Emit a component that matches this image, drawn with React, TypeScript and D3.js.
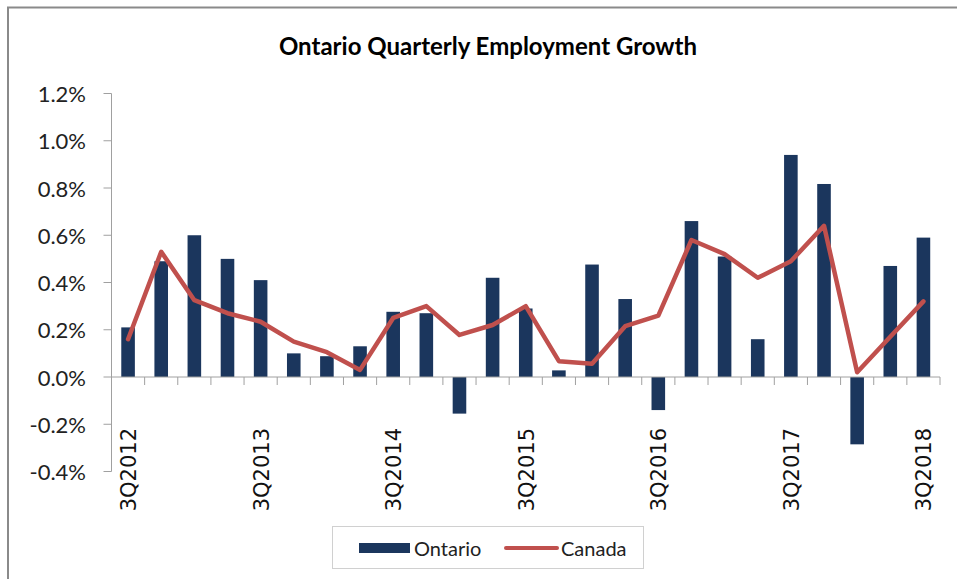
import React, { useEffect, useRef } from "react";
import * as d3 from "d3";

const quarters = [
  "3Q2012", "4Q2012", "1Q2013", "2Q2013", "3Q2013", "4Q2013", "1Q2014", "2Q2014",
  "3Q2014", "4Q2014", "1Q2015", "2Q2015", "3Q2015", "4Q2015", "1Q2016", "2Q2016",
  "3Q2016", "4Q2016", "1Q2017", "2Q2017", "3Q2017", "4Q2017", "1Q2018", "2Q2018", "3Q2018",
];
const ontario = [
  0.21, 0.49, 0.60, 0.50, 0.41, 0.10, 0.088, 0.13, 0.276, 0.27, -0.155, 0.42, 0.29,
  0.028, 0.476, 0.33, -0.14, 0.66, 0.51, 0.16, 0.94, 0.817, -0.285, 0.47, 0.59,
];
const canada = [
  0.16, 0.53, 0.325, 0.27, 0.234, 0.15, 0.105, 0.03, 0.25, 0.30, 0.178, 0.22, 0.30,
  0.067, 0.056, 0.215, 0.26, 0.58, 0.52, 0.42, 0.49, 0.64, 0.02, 0.17, 0.32,
];
const yTicks = [-0.4, -0.2, 0, 0.2, 0.4, 0.6, 0.8, 1.0, 1.2];
const xTickLabels = ["3Q2012", "3Q2013", "3Q2014", "3Q2015", "3Q2016", "3Q2017", "3Q2018"];

const W = 957;
const H = 579;
const X0 = 111.5;
const X1 = 940;
const Y_TOP = 93.5;
const Y_BOT = 471.5;
const BAR = "#1b365d";
const LINE = "#c0504d";
const AXIS = "#a0a0a0";
const SANS = "Lato, 'Open Sans', sans-serif";

export default function App() {
  const ref = useRef<SVGSVGElement>(null);

  useEffect(() => {
    const svg = d3.select(ref.current);
    svg.selectAll("*").remove();

    const x = d3.scaleBand<string>().domain(quarters).range([X0, X1]).paddingInner(0.59).paddingOuter(0.295);
    const step = x.step();
    const y = d3.scaleLinear().domain([-0.4, 1.2]).range([Y_BOT, Y_TOP]);
    const cx = (q: string) => (x(q) as number) + x.bandwidth() / 2;

    svg.append("rect").attr("width", W).attr("height", H).attr("fill", "#fff");

    // frame
    svg.append("line").attr("x1", 7).attr("x2", W).attr("y1", 7.5).attr("y2", 7.5)
      .attr("stroke", "#8a8a8a").attr("stroke-width", 2);
    svg.append("line").attr("x1", 8).attr("x2", 8).attr("y1", 7).attr("y2", H)
      .attr("stroke", "#8a8a8a").attr("stroke-width", 2);

    // title
    svg.append("text").attr("x", 488).attr("y", 45)
      .attr("text-anchor", "middle").attr("dominant-baseline", "central")
      .attr("font-family", SANS).attr("font-weight", "bold").attr("font-size", 24)
      .attr("fill", "#000").text("Ontario Quarterly Employment Growth");

    // y axis
    const yg = svg.append("g");
    yg.append("line").attr("x1", X0).attr("x2", X0).attr("y1", y(1.2)).attr("y2", y(-0.4))
      .attr("stroke", AXIS);
    yTicks.forEach((t) => {
      yg.append("line").attr("x1", X0 - 8).attr("x2", X0).attr("y1", y(t)).attr("y2", y(t))
        .attr("stroke", AXIS);
      yg.append("text").attr("x", 86).attr("y", y(t))
        .attr("text-anchor", "end").attr("dominant-baseline", "central")
        .attr("font-family", SANS).attr("font-size", 22).attr("fill", "#222")
        .text(t.toFixed(1) + "%");
    });

    // bars
    svg.append("g").selectAll("rect").data(quarters).join("rect")
      .attr("x", (q) => x(q) as number)
      .attr("width", x.bandwidth())
      .attr("y", (_, i) => Math.min(y(ontario[i]), y(0)))
      .attr("height", (_, i) => Math.abs(y(ontario[i]) - y(0)))
      .attr("fill", BAR);

    // x axis at zero
    const xg = svg.append("g");
    xg.append("line").attr("x1", X0).attr("x2", X1).attr("y1", y(0)).attr("y2", y(0)).attr("stroke", AXIS);
    for (let i = 1; i <= quarters.length; i++) {
      const tx = X0 + step * i;
      xg.append("line").attr("x1", tx).attr("x2", tx).attr("y1", y(0)).attr("y2", y(0) + 8)
        .attr("stroke", AXIS);
    }
    xTickLabels.forEach((q) => {
      xg.append("text")
        .attr("transform", `translate(${cx(q) + 1},${428}) rotate(-90)`)
        .attr("text-anchor", "end").attr("dominant-baseline", "central")
        .attr("font-family", "'DejaVu Sans', sans-serif").attr("font-size", 21).attr("fill", "#111")
        .text(q);
    });

    // line
    const line = d3.line<number>().x((_, i) => cx(quarters[i])).y((d) => y(d));
    svg.append("path").datum(canada).attr("d", line).attr("fill", "none")
      .attr("stroke", LINE).attr("stroke-width", 4.5).attr("stroke-linejoin", "round")
      .attr("stroke-linecap", "round");

    // legend
    const lg = svg.append("g");
    lg.append("rect").attr("x", 332.5).attr("y", 526.5).attr("width", 311).attr("height", 42)
      .attr("fill", "#fff").attr("stroke", "#d0d0d0");
    lg.append("rect").attr("x", 359).attr("y", 543).attr("width", 51).attr("height", 10).attr("fill", BAR);
    lg.append("text").attr("x", 414).attr("y", 548).attr("dominant-baseline", "central")
      .attr("font-family", SANS).attr("font-size", 20).attr("fill", "#222").text("Ontario");
    lg.append("line").attr("x1", 506).attr("x2", 557).attr("y1", 548).attr("y2", 548)
      .attr("stroke", LINE).attr("stroke-width", 4).attr("stroke-linecap", "round");
    lg.append("text").attr("x", 561).attr("y", 548).attr("dominant-baseline", "central")
      .attr("font-family", SANS).attr("font-size", 20).attr("fill", "#222").text("Canada");
  }, []);

  return (
    <svg ref={ref} width={W} height={H}
      style={{ position: "absolute", left: 0, top: 0, display: "block" }} />
  );
}
